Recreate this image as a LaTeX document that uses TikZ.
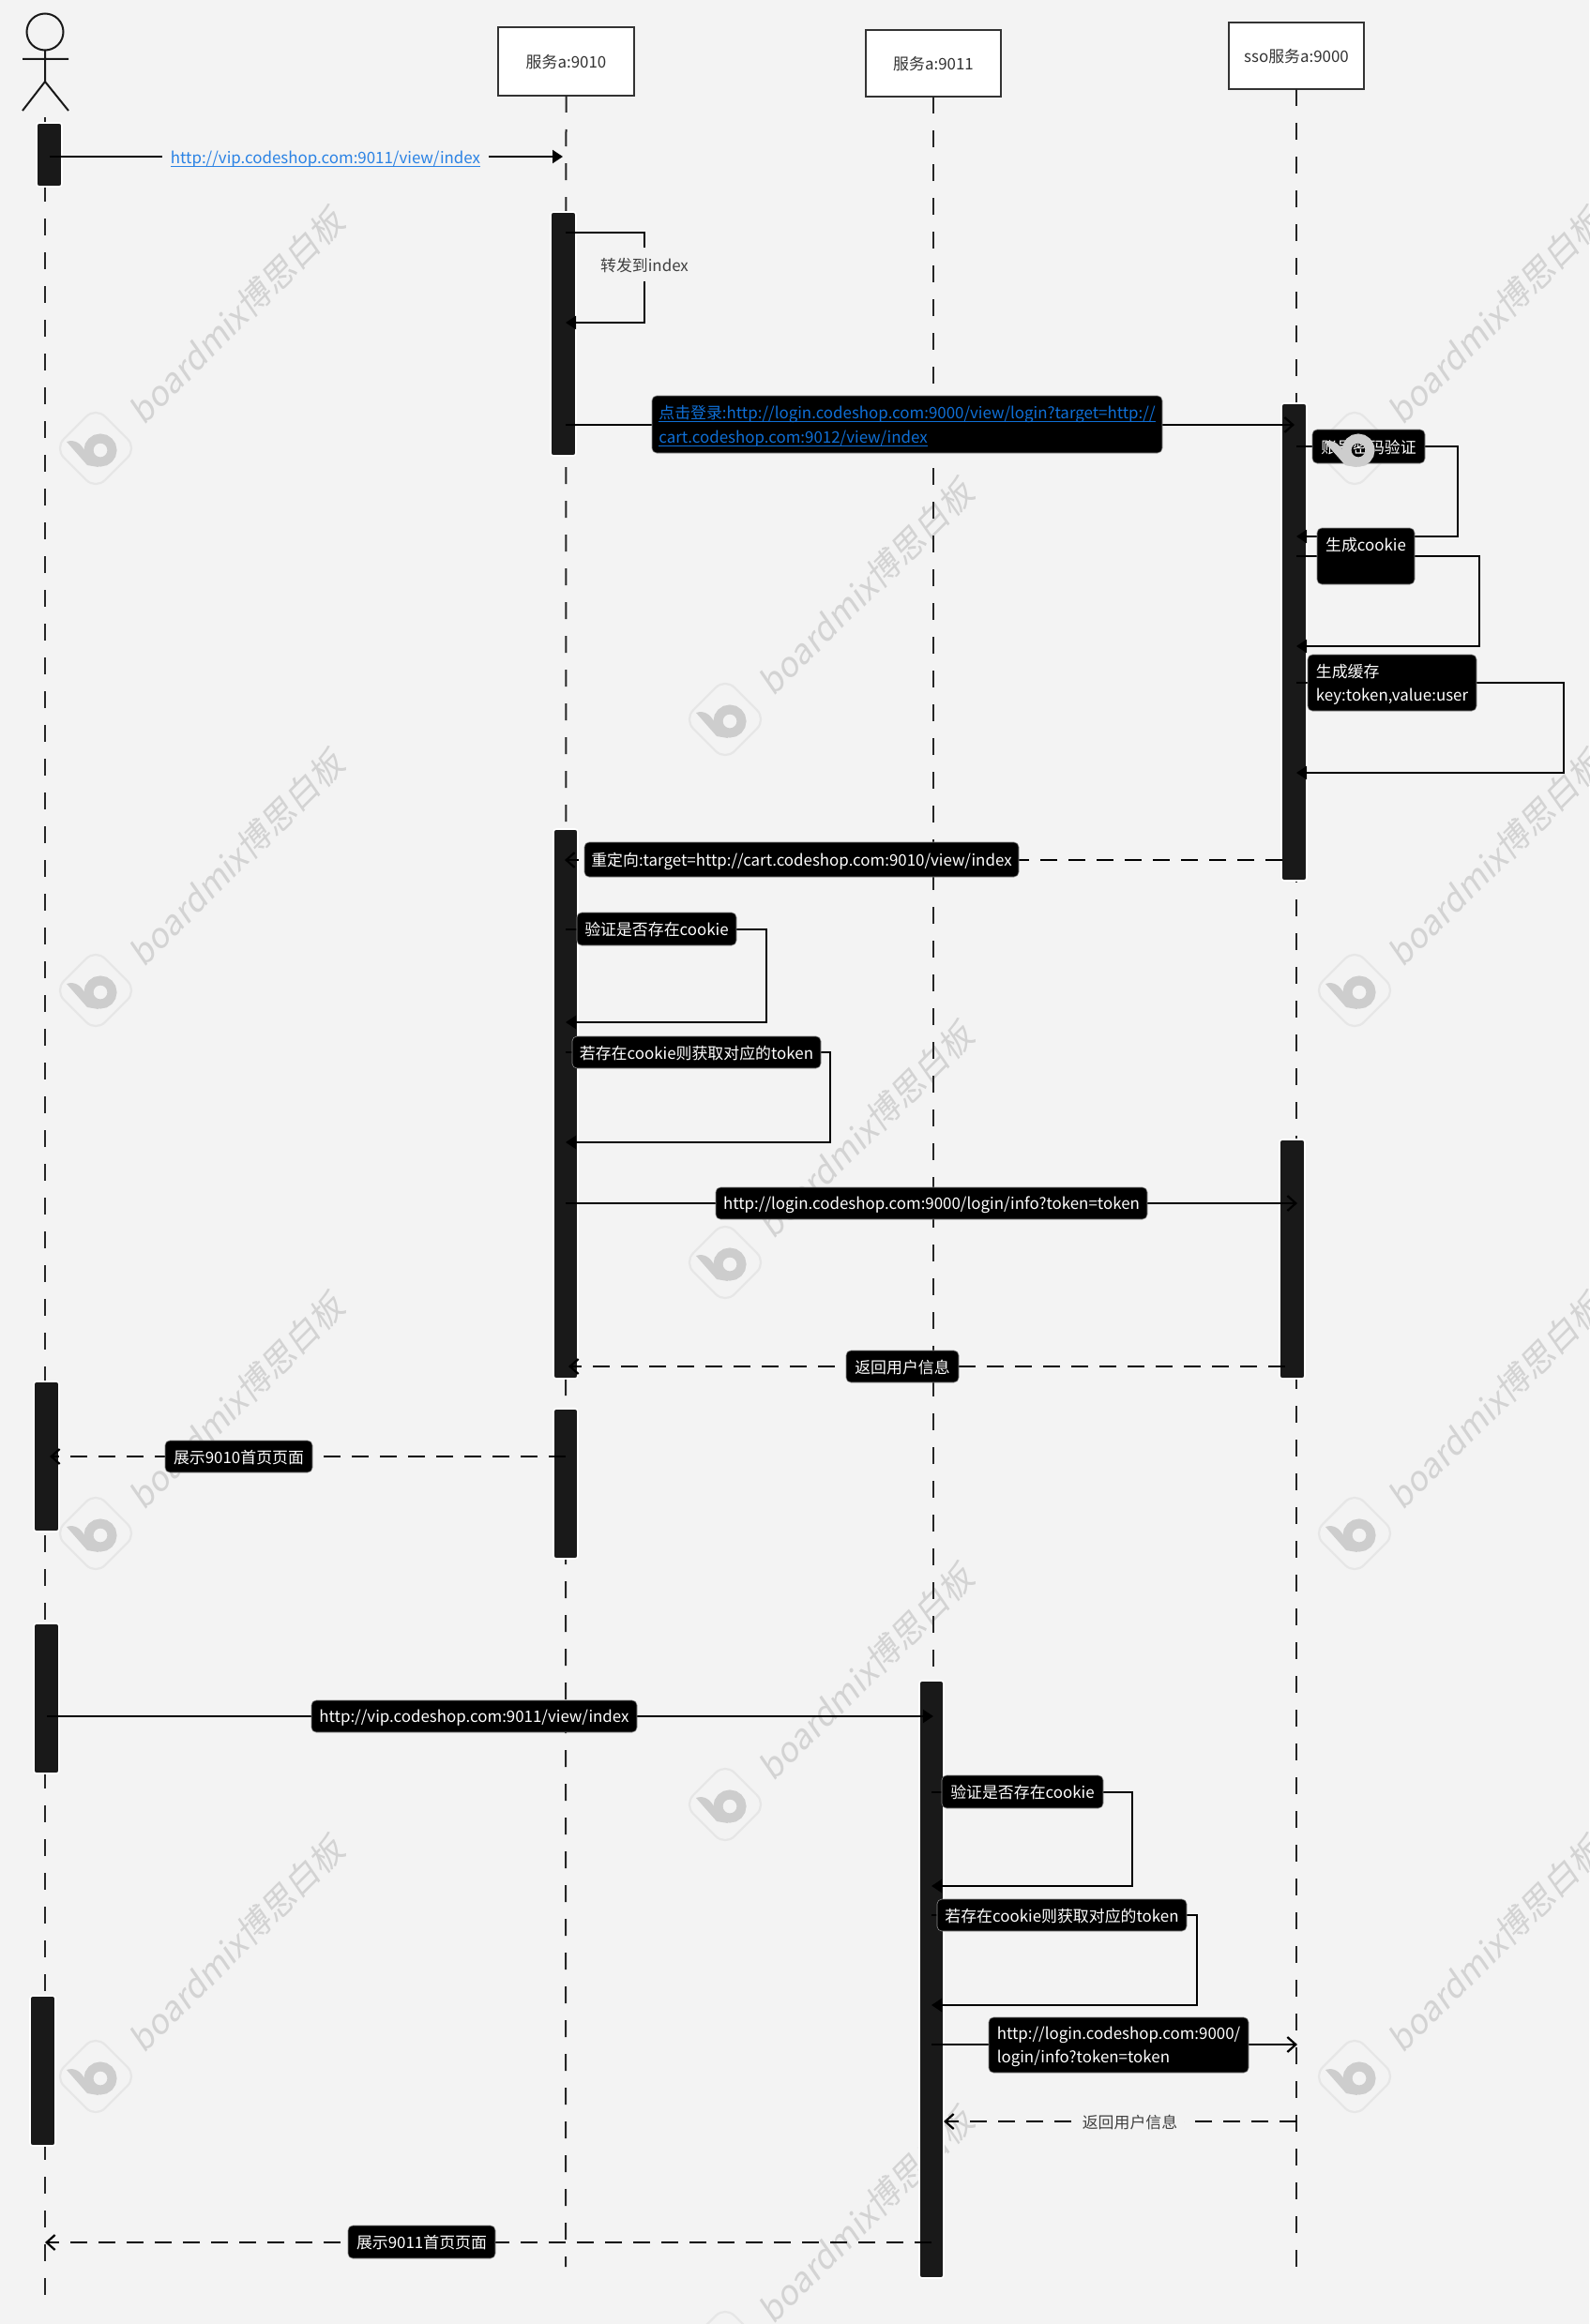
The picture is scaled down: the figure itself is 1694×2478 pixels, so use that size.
\documentclass[tikz,border=0pt]{standalone}
\usepackage{fontspec}
\setmainfont{Noto Sans CJK SC}
\newfontfamily\wmfont[FakeSlant=0.18]{Noto Sans CJK SC}
\usetikzlibrary{arrows.meta}
\definecolor{bgc}{HTML}{F3F3F3}
\definecolor{barc}{HTML}{191919}
\definecolor{wmc}{HTML}{D3D3D3}
\definecolor{wmf}{HTML}{E6E6E6}
\definecolor{wmb}{HTML}{CDCDCD}
\definecolor{linkc}{HTML}{0F6FD6}
\definecolor{linkd}{HTML}{2A82E4}
\newsavebox{\lnkbox}
\newcommand\lnk[1]{\sbox{\lnkbox}{#1}\rlap{\rule[-1.6pt]{\wd\lnkbox}{.45pt}}\usebox{\lnkbox}}
\tikzset{
  span/.style n args={4}{at={({(#1+#3)/2},{(#2+#4)/2})},minimum width={(#3-#1)*0.5},minimum height={(#4-#2)*0.5}},
  base/.style={inner sep=0pt,outer sep=0pt,text depth=0pt,font=\fontsize{8.45}{12.7}\selectfont},
  head/.style={base,draw=black!80,line width=1pt,fill=white,text=black!80},
  actbar/.style={inner sep=0pt,outer sep=0pt,draw=white,line width=.8pt,fill=barc,rounded corners=1.5pt},
  lbl/.style={base,draw=black!45,line width=.3pt,fill=black,text=white,rounded corners=2.5pt,align=left},
  plain/.style={base,fill=bgc,text=black!75},
  life/.style={line width=1pt,draw=black!85,dash pattern=on 9pt off 9pt},
  msg/.style={line width=1.1pt,draw=black},
  ret/.style={line width=1.1pt,draw=black,dash pattern=on 9pt off 6pt},
  solidtip/.style={-{Triangle[length=5.5pt,width=7pt]}},
  opentip/.style={-{Straight Barb[length=4.5pt,width=8pt]}},
  wmtext/.style={text=wmc,font=\fontsize{18}{20}\wmfont,inner sep=0pt,rotate=45},
  bmark/.pic={
    \fill[wmb] (-28,-7) .. controls (-19,-10) and (-13,-5) .. (-9,2) -- (5,12) -- (6,20) -- (-6,18) -- cycle;
    \draw[wmb,line width=5pt] (8,2) circle[radius=12.5];
  }
}
\begin{document}
\begin{tikzpicture}[x=.5pt,y=-.5pt,line join=miter]
\path[use as bounding box,fill=bgc] (0,0) rectangle (1694,2478);
% watermarks
\begin{scope}
\clip (0,0) rectangle (1694,2478);
\foreach \wx/\wy in {252/337,252/915,252/1494,252/2073,923/626,923/1205,923/1783,923/2362,1594/337,1594/915,1594/1494,1594/2073}{
  \node[wmtext] (wm\wx-\wy) at (\wx,\wy) {boardmix博思白板};
  \begin{scope}[shift={(\wx-150,\wy+141)}]
    \draw[wmf,line width=1.1pt,rounded corners=7pt,rotate=45] (-31,-31) rectangle (31,31);
    \pic at (-3,0) {bmark};
  \end{scope}
}
\end{scope}
% actor
\node[draw=black!90,line width=1pt,circle,minimum size=19.5pt,inner sep=0pt,outer sep=0pt] (actorhead) at (48,34) {};
\coordinate (hip) at (48,87);
\coordinate (armL) at (24,63);
\coordinate (armR) at (73,63);
\coordinate (legL) at (24,118);
\coordinate (legR) at (73,118);
\draw[line width=1pt,draw=black!90] (actorhead.south) -- (hip) (armL) -- (armR) (legL) -- (hip) -- (legR);
% heads
\node[head,span={531}{29}{676}{102}] (s9010) {服务a:9010};
\node[head,span={923}{32}{1067}{103}] (s9011) {服务a:9011};
\node[head,span={1310}{24}{1454}{95}] (s9000) {sso服务a:9000};
% lifelines
\coordinate (actortop) at (48,125);
\coordinate (actorend) at (48,2449);
\coordinate (e9010) at (603,2417);
\coordinate (e9011) at (995,2417);
\coordinate (e9000) at (1382,2417);
\draw[life] (actortop) -- (actorend);
\draw[life] (s9010.south) -- (e9010);
\draw[life] (s9011.south) -- (e9011);
\draw[life] (s9000.south) -- (e9000);
% activation bars
\node[actbar,span={39}{131}{66}{199}] (a1) {};
\node[actbar,span={587}{226}{614}{486}] (b1) {};
\node[actbar,span={1366}{430}{1393}{939}] (c1) {};
\node[actbar,span={590}{884}{616}{1470}] (b2) {};
\node[actbar,span={1364}{1215}{1391}{1470}] (c2) {};
\node[actbar,span={36}{1473}{63}{1633}] (a2) {};
\node[actbar,span={590}{1502}{616}{1662}] (b3) {};
\node[actbar,span={36}{1731}{63}{1891}] (a3) {};
\node[actbar,span={32}{2128}{59}{2288}] (a4) {};
\node[actbar,span={980}{1792}{1006}{2429}] (d1) {};
% connector ends
\coordinate (m1a) at (53,167); \coordinate (m1b) at (600,167);
\coordinate (f1a) at (603,248); \coordinate (f1c) at (687,344); \coordinate (f1d) at (603,344);
\coordinate (m2a) at (603,453); \coordinate (m2b) at (1380,453);
\coordinate (s1a) at (1382,476); \coordinate (s1c) at (1554,572); \coordinate (s1d) at (1382,572);
\coordinate (s2a) at (1382,593); \coordinate (s2c) at (1577,689); \coordinate (s2d) at (1382,689);
\coordinate (s3a) at (1382,728); \coordinate (s3c) at (1667,824); \coordinate (s3d) at (1382,824);
\coordinate (r1a) at (1367,917); \coordinate (r1b) at (602,917);
\coordinate (s4a) at (603,991); \coordinate (s4c) at (817,1090); \coordinate (s4d) at (603,1090);
\coordinate (s5a) at (603,1122); \coordinate (s5c) at (885,1218); \coordinate (s5d) at (603,1218);
\coordinate (m3a) at (603,1283); \coordinate (m3b) at (1383,1283);
\coordinate (r2a) at (1370,1457); \coordinate (r2b) at (606,1457);
\coordinate (r3a) at (603,1553); \coordinate (r3b) at (53,1553);
\coordinate (m4a) at (50,1830); \coordinate (m4b) at (995,1830);
\coordinate (s6a) at (993,1911); \coordinate (s6c) at (1207,2011); \coordinate (s6d) at (993,2011);
\coordinate (s7a) at (993,2042); \coordinate (s7c) at (1276,2138); \coordinate (s7d) at (993,2138);
\coordinate (m5a) at (993,2180); \coordinate (m5b) at (1383,2180);
\coordinate (r4a) at (1382,2262); \coordinate (r4b) at (1006,2262);
\coordinate (r5a) at (993,2391); \coordinate (r5b) at (48,2391);
% connectors
\draw[msg,solidtip] (m1a) -- (m1b);
\draw[msg,solidtip] (f1a) -| (f1c) -- (f1d);
\draw[msg,opentip] (m2a) -- (m2b);
\draw[msg,solidtip] (s1a) -| (s1c) -- (s1d);
\draw[msg,solidtip] (s2a) -| (s2c) -- (s2d);
\draw[msg,solidtip] (s3a) -| (s3c) -- (s3d);
\draw[ret,opentip] (r1a) -- (r1b);
\draw[msg,solidtip] (s4a) -| (s4c) -- (s4d);
\draw[msg,solidtip] (s5a) -| (s5c) -- (s5d);
\draw[msg,opentip] (m3a) -- (m3b);
\draw[ret,opentip] (r2a) -- (r2b);
\draw[ret,opentip] (r3a) -- (r3b);
\draw[msg,solidtip] (m4a) -- (m4b);
\draw[msg,solidtip] (s6a) -| (s6c) -- (s6d);
\draw[msg,solidtip] (s7a) -| (s7c) -- (s7d);
\draw[msg,opentip] (m5a) -- (m5b);
\draw[ret,opentip] (r4a) -- (r4b);
\draw[ret,opentip] (r5a) -- (r5b);
% labels
\node[plain,text=linkd,span={173}{150}{521}{185}] (l1) {\lnk{http://vip.codeshop.com:9011/view/index}};
\node[plain,span={640}{264}{734}{300}] (lf1) {转发到index};
\node[lbl,text=linkc,span={695}{422}{1239}{483}] (l2) {\lnk{点击登录:http://login.codeshop.com:9000/view/login?target=http://}\\\lnk{cart.codeshop.com:9012/view/index}};
\node[lbl,span={1399}{458}{1519}{494}] (l3) {账号密码验证};
\node[lbl,span={1404}{563}{1508}{623}] (l4) {生成cookie\\\ };
\node[lbl,span={1394}{698}{1574}{758}] (l5) {生成缓存\\key:token,value:user};
\node[lbl,span={623}{898}{1086}{935}] (l6) {重定向:target=http://cart.codeshop.com:9010/view/index};
\node[lbl,span={615}{973}{785}{1008}] (l7) {验证是否存在cookie};
\node[lbl,span={610}{1105}{875}{1139}] (l8) {若存在cookie则获取对应的token};
\node[lbl,span={763}{1266}{1223}{1300}] (l9) {http://login.codeshop.com:9000/login/info?token=token};
\node[lbl,span={902}{1440}{1022}{1474}] (l10) {返回用户信息};
\node[lbl,span={176}{1536}{333}{1570}] (l11) {展示9010首页页面};
\node[lbl,span={332}{1813}{679}{1847}] (l12) {http://vip.codeshop.com:9011/view/index};
\node[lbl,span={1004}{1893}{1176}{1928}] (l13) {验证是否存在cookie};
\node[lbl,span={999}{2025}{1265}{2059}] (l14) {若存在cookie则获取对应的token};
\node[lbl,span={1054}{2151}{1331}{2210}] (l15) {http://login.codeshop.com:9000/\\login/info?token=token};
\node[plain,span={1147}{2244}{1262}{2280}] (l16) {返回用户信息};
\node[lbl,span={371}{2373}{528}{2408}] (l17) {展示9011首页页面};
% logo mark that lies over the label
\pic at (1440,478) {bmark};
\end{tikzpicture}
\end{document}
